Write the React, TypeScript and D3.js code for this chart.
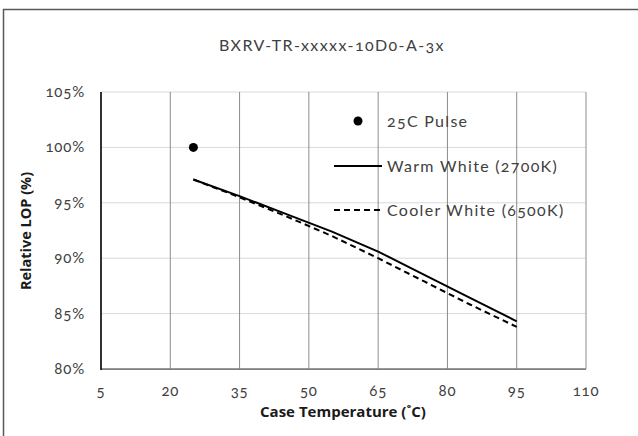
import React from "react";
import * as d3 from "d3";

const xTicks = [5, 20, 35, 50, 65, 80, 95, 110];
const yTicks = [80, 85, 90, 95, 100, 105];
const pulseX = [25];
const pulseY = [100];
const tempX = [25, 35, 45, 55, 65, 75, 85, 95];
const warmY = [97.1, 95.6, 94.0, 92.4, 90.6, 88.5, 86.4, 84.3];
const coolY = [97.1, 95.5, 93.8, 92.0, 90.0, 87.9, 85.8, 83.8];

const W = 638, H = 436;
const L = 101, R = 586, T = 92, B = 369;
const FONT = "Lato, 'Open Sans', sans-serif";
const BOLD = "'Open Sans', Lato, sans-serif";

export default function App() {
  const x = d3.scaleLinear().domain([5, 110]).range([L, R]);
  const y = d3.scaleLinear().domain([80, 105]).range([B, T]);
  const line = d3.line<number>().x((_, i) => x(tempX[i])).y((d) => y(d));
  const numStyle: React.CSSProperties = { fontFeatureSettings: '"onum"' };
  return (
    <svg width={W} height={H} style={{ position: "absolute", left: 0, top: 0, fontFamily: FONT }}>
      <rect x={0} y={0} width={W} height={H} fill="#fff" />
      <rect x={3.5} y={9.5} width={800} height={600} fill="none" stroke="#595959" strokeWidth={1.5} />
      <text x={332} y={51} textAnchor="middle" fontSize={16} letterSpacing={1.4} fill="#404040" style={numStyle}>
        BXRV-TR-xxxxx-10D0-A-3x
      </text>
      {yTicks.map((t) => (
        <line key={"h" + t} x1={L} x2={R} y1={y(t)} y2={y(t)} stroke="#d9d9d9" strokeWidth={1} />
      ))}
      {xTicks.map((t) => (
        <line key={"v" + t} x1={x(t)} x2={x(t)} y1={T} y2={B} stroke="#8c8c8c" strokeWidth={1} />
      ))}
      <line x1={L} x2={R} y1={B} y2={B} stroke="#7f7f7f" strokeWidth={1.75} />
      <line x1={L} x2={L} y1={T} y2={B + 1} stroke="#000" strokeWidth={1.5} />
      {yTicks.map((t) => (
        <text key={"yl" + t} x={85} y={y(t) + 5} textAnchor="end" fontSize={15} letterSpacing={0.8} fill="#404040" style={numStyle}>
          {t}%
        </text>
      ))}
      {xTicks.map((t) => (
        <text key={"xl" + t} x={x(t)} y={396} textAnchor="middle" fontSize={15} letterSpacing={0.8} fill="#404040" style={numStyle}>
          {t}
        </text>
      ))}
      <text x={343} y={417} textAnchor="middle" fontSize={15} fontWeight="bold" fontFamily={BOLD} fill="#1a1a1a">
        Case Temperature (˚C)
      </text>
      <text
        transform={`translate(31,${231}) rotate(-90)`}
        textAnchor="middle"
        fontSize={14.5}
        fontWeight="bold"
        fontFamily={BOLD}
        fill="#1a1a1a"
      >
        Relative LOP (%)
      </text>
      <path d={line(coolY) || ""} fill="none" stroke="#000" strokeWidth={2} strokeDasharray="6,4" />
      <path d={line(warmY) || ""} fill="none" stroke="#000" strokeWidth={2} />
      {pulseX.map((px, i) => (
        <circle key={"p" + i} cx={x(px)} cy={y(pulseY[i])} r={4.5} fill="#000" />
      ))}
      <g fontSize={16} letterSpacing={1.3} fill="#404040" style={numStyle}>
        <circle cx={358} cy={121} r={4.5} fill="#000" />
        <text x={387} y={126.5}>25C Pulse</text>
        <line x1={334} x2={382} y1={166} y2={166} stroke="#000" strokeWidth={2} />
        <text x={387} y={171.5}>Warm White (2700K)</text>
        <line x1={334} x2={382} y1={210} y2={210} stroke="#000" strokeWidth={2} strokeDasharray="6,4" />
        <text x={387} y={215.5}>Cooler White (6500K)</text>
      </g>
    </svg>
  );
}
